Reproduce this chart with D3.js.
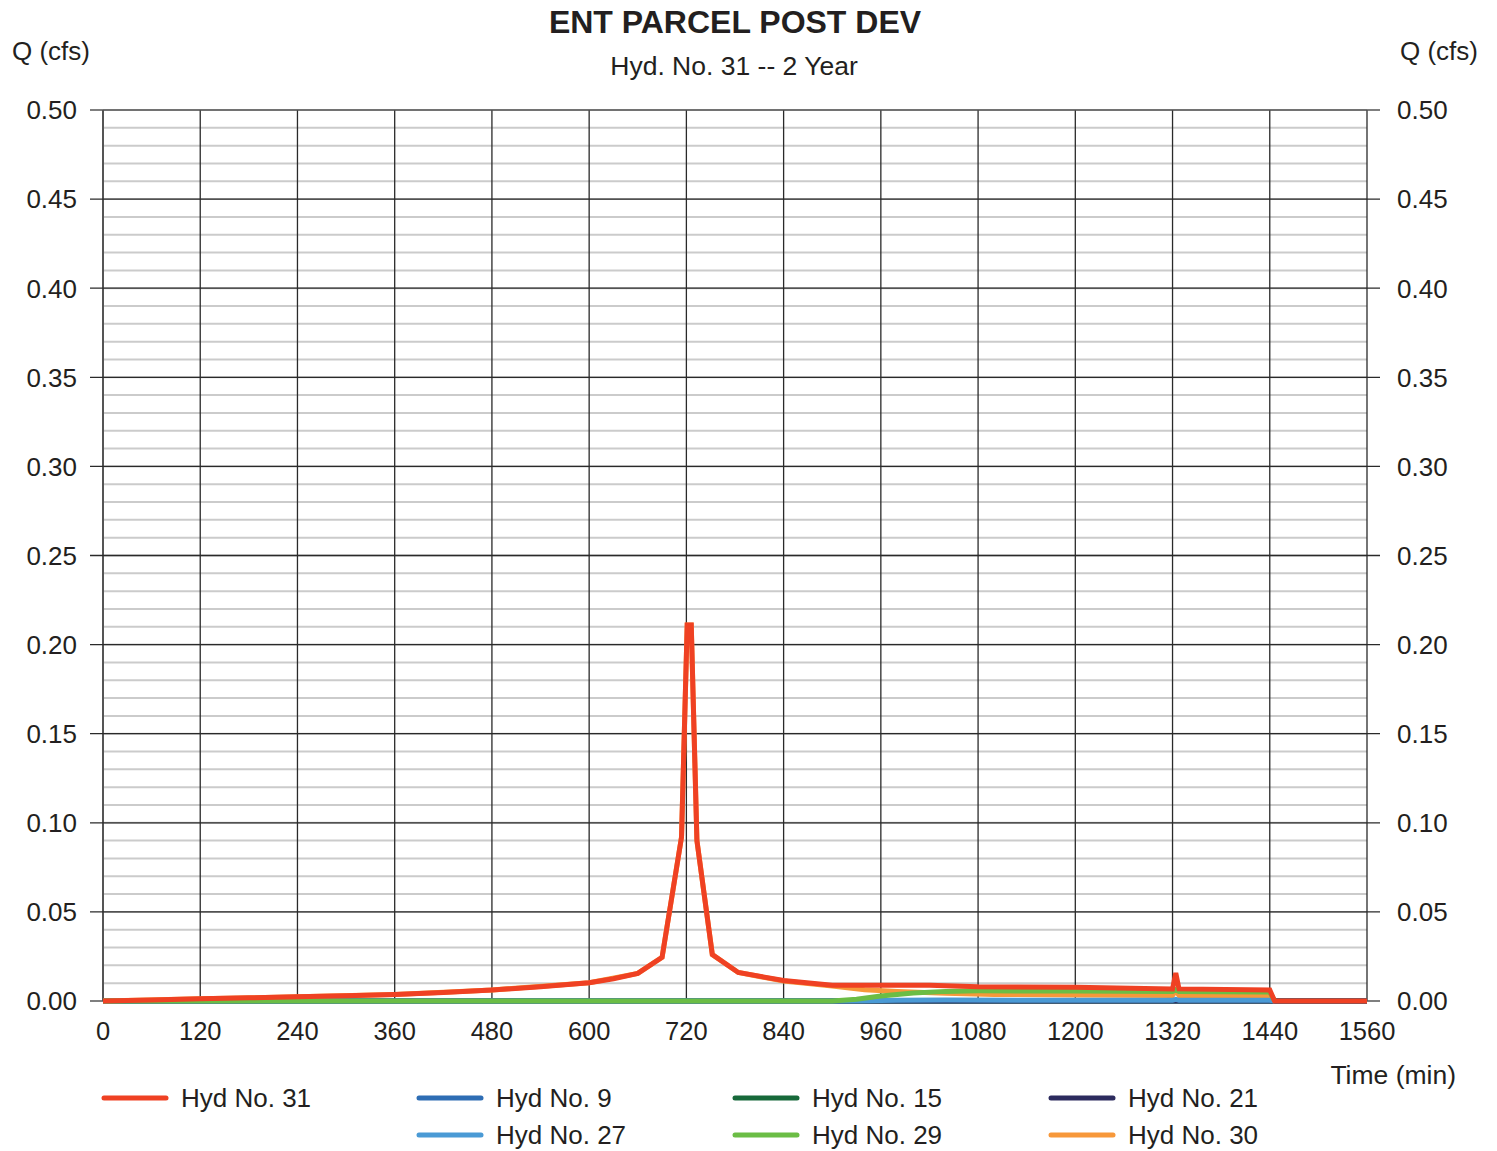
<!DOCTYPE html>
<html>
<head>
<meta charset="utf-8">
<script src="https://cdn.jsdelivr.net/npm/d3@7"></script>
<style>
  body { margin: 0; background: #fff; }
  text { font-family: "Liberation Sans", Arial, Helvetica, sans-serif; fill: #231f20; }
</style>
</head>
<body>
<div class="canvas"></div>
<script>
// hydrograph data (time in min, Q in cfs)
const t31 = [0, 60, 120, 180, 240, 300, 360, 420, 480, 540, 600, 630, 660, 690, 714, 721, 726, 733, 752, 784, 840, 900, 960, 1020, 1080, 1200, 1320, 1324, 1328, 1440, 1446, 1560];
const q31 = [0, 0.0005, 0.0012, 0.0018, 0.0024, 0.003, 0.0037, 0.0048, 0.0062, 0.008, 0.0102, 0.0125, 0.0155, 0.0245, 0.092, 0.211, 0.211, 0.09, 0.026, 0.016, 0.0115, 0.0088, 0.0088, 0.0088, 0.008, 0.0077, 0.0068, 0.0157, 0.0068, 0.0062, 0, 0];

const t9 = [0, 1560];
const q9 = [0, 0];
const t15 = [0, 1560];
const q15 = [0, 0];
const t21 = [0, 1560];
const q21 = [0, 0];

const t27 = [0, 900, 940, 980, 1040, 1320, 1324, 1328, 1440, 1446];
const q27 = [0, 0, 0.0002, 0.0004, 0.0005, 0.0004, 0.0009, 0.0004, 0.0004, 0];

const t29 = [0, 900, 930, 960, 1000, 1040, 1080, 1200, 1320, 1324, 1328, 1440, 1446];
const q29 = [0, 0, 0.001, 0.0028, 0.0045, 0.0054, 0.0057, 0.0056, 0.0053, 0.0063, 0.0053, 0.005, 0];

const t30 = [0, 120, 240, 360, 480, 600, 660, 690, 714, 721, 726, 733, 752, 784, 840, 900, 940, 980, 1040, 1100, 1200, 1320, 1324, 1328, 1440, 1446];
const q30 = [0, 0.0012, 0.0024, 0.0037, 0.0062, 0.0102, 0.0155, 0.0245, 0.092, 0.211, 0.211, 0.09, 0.026, 0.016, 0.0112, 0.0084, 0.0063, 0.0053, 0.0043, 0.0037, 0.0034, 0.0031, 0.0058, 0.0031, 0.0029, 0];

const series = [
  { name: "Hyd No. 31", t: t31, q: q31, color: "#ef4123" },
  { name: "Hyd No. 9", t: t9, q: q9, color: "#2e6db4" },
  { name: "Hyd No. 15", t: t15, q: q15, color: "#17693a" },
  { name: "Hyd No. 21", t: t21, q: q21, color: "#2c2b5e" },
  { name: "Hyd No. 27", t: t27, q: q27, color: "#4a9ad5" },
  { name: "Hyd No. 29", t: t29, q: q29, color: "#6bbd45" },
  { name: "Hyd No. 30", t: t30, q: q30, color: "#f7983a" },
];
// draw order: bottom first, Hyd 31 on top
const drawOrder = ["Hyd No. 9", "Hyd No. 15", "Hyd No. 21", "Hyd No. 30", "Hyd No. 27", "Hyd No. 29", "Hyd No. 31"];

const xTicks = d3.range(0, 1561, 120);
const yMajor = d3.range(0, 0.5001, 0.05);
const yMinor = d3.range(0, 0.5001, 0.01);

const dims = { width: 1497, height: 1151 };
const plot = { left: 103, right: 1367, top: 110, bottom: 1001 };

const svg = d3
  .select(".canvas")
  .append("svg")
  .attr("width", dims.width)
  .attr("height", dims.height);

const x = d3.scaleLinear().domain([0, 1560]).range([plot.left, plot.right]);
const y = d3.scaleLinear().domain([0, 0.5]).range([plot.bottom, plot.top]);

// minor grid
svg
  .append("g")
  .selectAll("line")
  .data(yMinor)
  .enter()
  .append("line")
  .attr("x1", plot.left)
  .attr("x2", plot.right)
  .attr("y1", (d) => y(d))
  .attr("y2", (d) => y(d))
  .attr("stroke", "#cbcbcb")
  .attr("stroke-width", 2);

// vertical grid
svg
  .append("g")
  .selectAll("line")
  .data(xTicks)
  .enter()
  .append("line")
  .attr("x1", (d) => x(d))
  .attr("x2", (d) => x(d))
  .attr("y1", plot.top)
  .attr("y2", plot.bottom)
  .attr("stroke", (d) => (d === 0 ? "#555" : "#2a2a2a"))
  .attr("stroke-width", (d) => (d === 0 ? 2 : 1.3));

// major horizontal grid incl. outward ticks on both sides
svg
  .append("g")
  .selectAll("line")
  .data(yMajor)
  .enter()
  .append("line")
  .attr("x1", plot.left - 13)
  .attr("x2", plot.right + 13)
  .attr("y1", (d) => y(d))
  .attr("y2", (d) => y(d))
  .attr("stroke", (d) => (d === 0 || d > 0.49 ? "#555" : "#2a2a2a"))
  .attr("stroke-width", (d) => (d === 0 || d > 0.49 ? 1.6 : 1.3));

// axis labels
const fmt = d3.format(".2f");
svg
  .append("g")
  .selectAll("text")
  .data(yMajor)
  .enter()
  .append("text")
  .attr("x", 77)
  .attr("y", (d) => y(d))
  .attr("dy", "0.36em")
  .attr("text-anchor", "end")
  .attr("font-size", 26)
  .text(fmt);

svg
  .append("g")
  .selectAll("text")
  .data(yMajor)
  .enter()
  .append("text")
  .attr("x", 1397)
  .attr("y", (d) => y(d))
  .attr("dy", "0.36em")
  .attr("text-anchor", "start")
  .attr("font-size", 26)
  .text(fmt);

svg
  .append("g")
  .selectAll("text")
  .data(xTicks)
  .enter()
  .append("text")
  .attr("x", (d) => x(d))
  .attr("y", 1040)
  .attr("text-anchor", "middle")
  .attr("font-size", 25.5)
  .text((d) => d);

// titles
svg.append("text").attr("x", 735).attr("y", 33).attr("text-anchor", "middle")
  .attr("font-size", 32).attr("font-weight", "bold").text("ENT PARCEL POST DEV");
svg.append("text").attr("x", 734).attr("y", 75).attr("text-anchor", "middle")
  .attr("font-size", 26.5).text("Hyd. No. 31 -- 2 Year");
svg.append("text").attr("x", 12).attr("y", 60).attr("font-size", 26).text("Q (cfs)");
svg.append("text").attr("x", 1478).attr("y", 60).attr("text-anchor", "end")
  .attr("font-size", 26).text("Q (cfs)");
svg.append("text").attr("x", 1456).attr("y", 1084).attr("text-anchor", "end")
  .attr("font-size", 26.5).text("Time (min)");

// series lines
const line = d3
  .line()
  .x((d) => x(d[0]))
  .y((d) => y(d[1]));

const byName = new Map(series.map((s) => [s.name, s]));
svg
  .append("g")
  .selectAll("path")
  .data(drawOrder.map((n) => byName.get(n)))
  .enter()
  .append("path")
  .attr("d", (s) => line(s.t.map((t, i) => [t, s.q[i]])))
  .attr("fill", "none")
  .attr("stroke", (s) => s.color)
  .attr("stroke-width", 5)
  .attr("stroke-linejoin", "miter");

// legend
const legendCols = [102, 417, 733, 1049];
const legendRows = [1098, 1135];
const legendPos = (i) =>
  i < 4 ? { x: legendCols[i], y: legendRows[0] } : { x: legendCols[i - 3], y: legendRows[1] };

const legend = svg
  .append("g")
  .selectAll("g")
  .data(series)
  .enter()
  .append("g")
  .attr("transform", (d, i) => `translate(${legendPos(i).x},${legendPos(i).y})`);

legend
  .append("line")
  .attr("x1", 2)
  .attr("x2", 64)
  .attr("stroke", (d) => d.color)
  .attr("stroke-width", 5)
  .attr("stroke-linecap", "round");

legend
  .append("text")
  .attr("x", 79)
  .attr("dy", "0.36em")
  .attr("font-size", 26)
  .text((d) => d.name);
</script>
</body>
</html>
